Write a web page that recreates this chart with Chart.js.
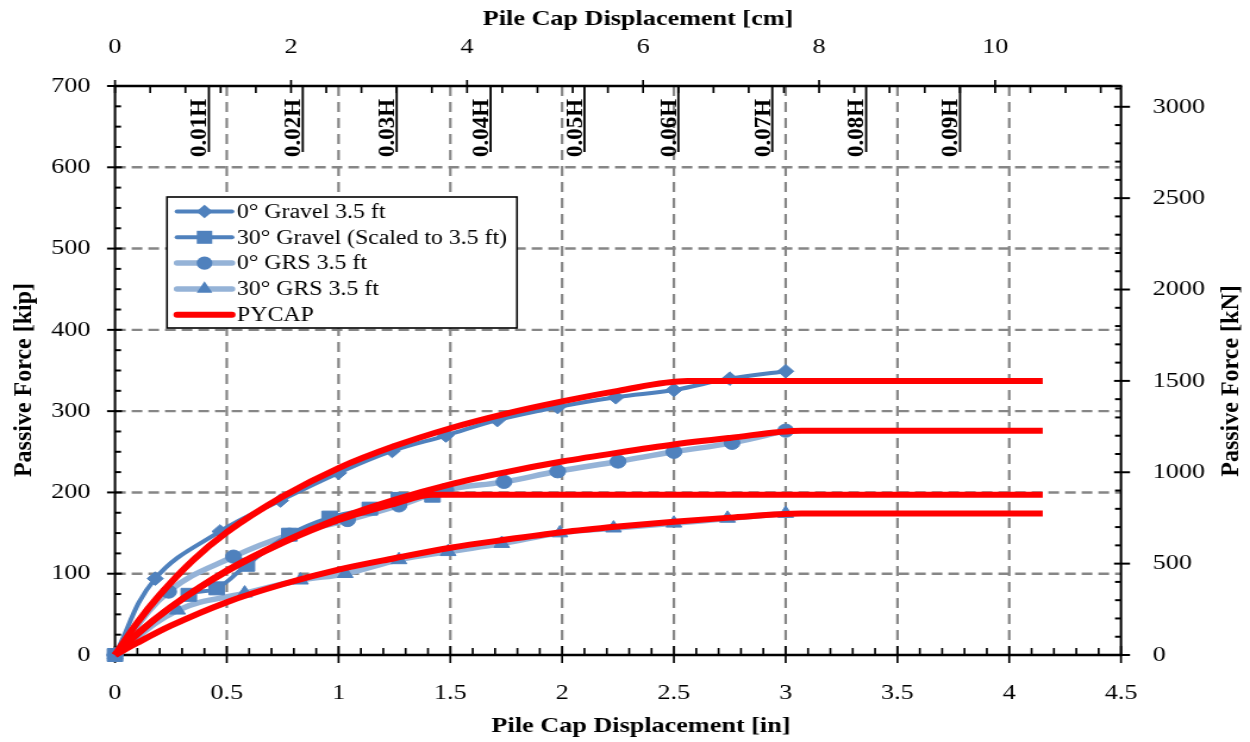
<!DOCTYPE html>
<html>
<head>
<meta charset="utf-8">
<script src="https://cdn.jsdelivr.net/npm/chart.js@4.4.1/dist/chart.umd.min.js"></script>
<style>
  html, body { margin: 0; padding: 0; background: #fff; overflow: hidden; }
  #wrap { width: 1250px; height: 742px; overflow: hidden; }
  #c { display: block; transform: scaleX(1.1904762); transform-origin: 0 0; }
</style>
</head>
<body>
<div id="wrap"><canvas id="c" width="1050" height="742"></canvas></div>
<script>
// Passive force vs. pile cap displacement: measured 3.5 ft backfill tests and PYCAP curves

// --- measured series (displacement in inches, force in kip) ---
const gravel0X = [0, 0.18, 0.47, 0.74, 1.00, 1.24, 1.48, 1.71, 1.98, 2.24, 2.50, 2.75, 3.00];
const gravel0Y = [0, 94, 152, 190, 224, 251, 270, 289, 305, 317, 326, 340, 349];

const gravel30X = [0, 0.33, 0.455, 0.59, 0.78, 0.96, 1.14, 1.27, 1.42];
const gravel30Y = [0, 74, 82, 111, 148, 169, 180, 192, 196];

const grs0X = [0, 0.24, 0.53, 0.78, 1.04, 1.27, 1.48, 1.74, 1.98, 2.25, 2.50, 2.76, 3.00];
const grs0Y = [0, 78, 121, 148, 166, 184, 203, 213, 226, 238, 250, 261, 276];

const grs30X = [0, 0.28, 0.58, 0.83, 1.03, 1.27, 1.49, 1.73, 1.99, 2.23, 2.50, 2.74, 3.00];
const grs30Y = [0, 55, 76, 92, 100, 117, 127, 137, 150, 156, 162, 168, 174];

// --- PYCAP predictions ---
const pycapAX = [0, 0.10, 0.20, 0.35, 0.50, 0.75, 1.00, 1.25, 1.50, 1.75, 2.00, 2.25, 2.56, 4.15];
const pycapAY = [0, 40, 74, 117, 151, 195, 230, 257, 279, 297, 312, 325, 337, 337];

const pycapBX = [0, 0.10, 0.25, 0.50, 0.75, 1.00, 1.25, 1.50, 1.75, 2.00, 2.25, 2.50, 2.75, 3.07, 4.15];
const pycapBY = [0, 26, 59, 104, 139, 168, 191, 210, 225, 238, 249, 259, 267, 276, 276];

const pycapCX = [0, 0.10, 0.25, 0.50, 0.75, 1.00, 1.25, 1.42, 4.15];
const pycapCY = [0, 26, 59, 103, 138, 166, 186, 197, 197];

const pycapDX = [0, 0.10, 0.25, 0.50, 0.75, 1.00, 1.25, 1.50, 1.75, 2.00, 2.25, 2.50, 2.75, 3.07, 4.15];
const pycapDY = [0, 15, 36, 65, 87, 105, 119, 132, 142, 151, 158, 164, 169, 174, 174];

// --- displacement markers as fractions of the backfill height ---
const hFractions = [0.01, 0.02, 0.03, 0.04, 0.05, 0.06, 0.07, 0.08, 0.09];
const hLabels = ['0.01H', '0.02H', '0.03H', '0.04H', '0.05H', '0.06H', '0.07H', '0.08H', '0.09H'];
const WALL_H_IN = 42;          // H = 3.5 ft

// --- axes ---
const X_MAX_IN = 4.5;
const Y_MAX_KIP = 700;
const KIP_TO_KN = 4.448222;
const IN_TO_CM = 2.54;
const kNTicks = [0, 500, 1000, 1500, 2000, 2500, 3000];
const cmTicks = [0, 2, 4, 6, 8, 10];

const DARK = '#4F81BD';
const LIGHT = '#95B3D7';
const RED = '#FF0000';
const SERIF = "'Liberation Serif', 'Times New Roman', Times, serif";
const SX = 1250 / 1050;        // horizontal display stretch of the canvas

function pts(xs, ys) { return xs.map((v, i) => ({ x: v, y: ys[i] })); }

function seg(ctx, x1, y1, x2, y2) {
  ctx.beginPath(); ctx.moveTo(x1, y1); ctx.lineTo(x2, y2); ctx.stroke();
}

function marker(ctx, style, cx, cy, r, color) {
  ctx.save();
  ctx.fillStyle = color;
  ctx.beginPath();
  if (style === 'circle') {
    ctx.arc(cx, cy, r, 0, Math.PI * 2);
  } else if (style === 'rect') {
    const s = r * Math.SQRT1_2;
    ctx.rect(cx - s, cy - s, 2 * s, 2 * s);
  } else if (style === 'rectRot') {
    ctx.moveTo(cx, cy - r); ctx.lineTo(cx + r, cy); ctx.lineTo(cx, cy + r); ctx.lineTo(cx - r, cy);
    ctx.closePath();
  } else if (style === 'triangle') {
    for (let k = 0; k < 3; k++) {
      const a = k * 2 * Math.PI / 3;
      const px = cx + r * Math.sin(a), py = cy - r * Math.cos(a);
      if (k === 0) ctx.moveTo(px, py); else ctx.lineTo(px, py);
    }
    ctx.closePath();
  }
  ctx.fill();
  ctx.restore();
}

function measured(label, xs, ys, lineColor, lineWidth, style, radius, order) {
  return {
    label, data: pts(xs, ys),
    borderColor: lineColor, borderWidth: lineWidth,
    pointStyle: style, pointRadius: radius, pointHoverRadius: radius,
    pointBackgroundColor: DARK, pointBorderColor: DARK, pointBorderWidth: 1,
    tension: 0.4, fill: false, clip: false, order
  };
}

function pycap(label, xs, ys) {
  return {
    label, data: pts(xs, ys),
    borderColor: RED, borderWidth: 6, pointRadius: 0, pointHoverRadius: 0,
    cubicInterpolationMode: 'monotone', fill: false, clip: false, order: 0
  };
}

const datasets = [
  measured('0° Gravel 3.5 ft', gravel0X, gravel0Y, DARK, 4, 'rectRot', 6.8, 1),
  measured('30° Gravel (Scaled to 3.5 ft)', gravel30X, gravel30Y, DARK, 4, 'rect', 9.2, 1),
  measured('0° GRS 3.5 ft', grs0X, grs0Y, LIGHT, 5.5, 'circle', 6.6, 2),
  measured('30° GRS 3.5 ft', grs30X, grs30Y, LIGHT, 5.5, 'triangle', 7.6, 2),
  pycap('PYCAP', pycapAX, pycapAY),
  pycap('PYCAP', pycapBX, pycapBY),
  pycap('PYCAP', pycapCX, pycapCY),
  pycap('PYCAP', pycapDX, pycapDY)
];
const legendRows = [0, 1, 2, 3, 4];

const tickFont = { family: SERIF, size: 22 };
const fmt = v => String(+Number(v).toFixed(2));

// grid, frame and tick marks drawn under the data
const framePlugin = {
  id: 'frame',
  beforeDatasetsDraw(chart) {
    const { ctx, chartArea: a, scales } = chart;
    const { x, y, x2, y2 } = scales;
    ctx.save();
    ctx.lineCap = 'butt';

    // dashed grid
    ctx.strokeStyle = '#868686';
    ctx.lineWidth = 2.2;
    ctx.setLineDash([10, 6]);
    for (let v = 0.5; v < X_MAX_IN; v += 0.5) {
      const px = x.getPixelForValue(v);
      seg(ctx, px, a.top, px, a.bottom);
    }
    ctx.lineWidth = 2.4;
    ctx.setLineDash([9, 5]);
    for (let v = 100; v < Y_MAX_KIP; v += 100) {
      const py = y.getPixelForValue(v);
      seg(ctx, a.left, py, a.right, py);
    }
    ctx.setLineDash([]);

    // plot frame
    ctx.strokeStyle = '#000';
    ctx.lineWidth = 2.4;
    seg(ctx, a.left - 1 / SX, a.bottom, a.right + 1 / SX, a.bottom);
    seg(ctx, a.left - 1 / SX, a.top, a.right + 1 / SX, a.top);
    ctx.lineWidth = 2.4 / SX;
    seg(ctx, a.left, a.top, a.left, a.bottom);
    seg(ctx, a.right, a.top, a.right, a.bottom);

    // left axis ticks (kip)
    ctx.lineWidth = 2;
    for (let i = 0; i <= 28; i++) {
      const py = y.getPixelForValue(i * 25);
      if (i % 4 === 0) seg(ctx, a.left - 8 / SX, py, a.left + 7 / SX, py);
      else seg(ctx, a.left, py, a.left + 6 / SX, py);
    }
    // right axis ticks (kN)
    for (let i = 0; i <= 31; i++) {
      const py = y2.getPixelForValue(i * 100);
      if (i % 5 === 0) seg(ctx, a.right - 7 / SX, py, a.right + 9 / SX, py);
      else seg(ctx, a.right - 6 / SX, py, a.right, py);
    }
    // bottom axis ticks (in)
    ctx.lineWidth = 2 / SX;
    for (let i = 0; i <= 45; i++) {
      const px = x.getPixelForValue(i * 0.1);
      if (i % 5 === 0) seg(ctx, px, a.bottom - 9, px, a.bottom + 8);
      else seg(ctx, px, a.bottom - 7, px, a.bottom);
    }
    // top axis ticks (cm)
    for (let i = 0; i <= 28; i++) {
      const px = x2.getPixelForValue(i * 0.4);
      if (i % 5 === 0) seg(ctx, px, a.top - 6, px, a.top + 7);
      else seg(ctx, px, a.top, px, a.top + 7);
    }
    ctx.restore();
  },

  afterDatasetsDraw(chart) {
    const { ctx, chartArea: a, scales } = chart;
    const { x } = scales;
    ctx.save();

    // H-fraction displacement markers
    ctx.strokeStyle = '#000';
    ctx.fillStyle = '#000';
    ctx.lineWidth = 2.2 / SX;
    ctx.font = `bold 23px ${SERIF}`;
    ctx.textAlign = 'left';
    ctx.textBaseline = 'alphabetic';
    hFractions.forEach((f, i) => {
      const px = x.getPixelForValue(f * WALL_H_IN);
      seg(ctx, px, a.top, px, 152);
      ctx.save();
      ctx.translate(px - 2.6 / SX, 157);
      ctx.scale(1 / SX, 1);
      ctx.rotate(-Math.PI / 2);
      ctx.fillText(hLabels[i], 0, 0);
      ctx.restore();
    });

    // legend
    const L = 167 / SX, R = 517 / SX, T = 197, B = 328;
    ctx.fillStyle = '#fff';
    ctx.fillRect(L, T, R - L, B - T);
    ctx.strokeStyle = '#000';
    ctx.lineWidth = 1.6;
    ctx.strokeRect(L, T, R - L, B - T);
    const sx1 = 177 / SX, sx2 = 232 / SX, tx = 237 / SX;
    ctx.font = `20px ${SERIF}`;
    ctx.textAlign = 'left';
    ctx.textBaseline = 'middle';
    legendRows.forEach((di, row) => {
      const ds = datasets[di];
      const ry = 211.5 + row * 25.8;
      ctx.strokeStyle = ds.borderColor;
      ctx.lineWidth = ds.borderWidth;
      ctx.lineCap = 'round';
      seg(ctx, sx1, ry, sx2, ry);
      if (ds.pointRadius > 0) marker(ctx, ds.pointStyle, (sx1 + sx2) / 2, ry, ds.pointRadius, ds.pointBackgroundColor);
      ctx.fillStyle = '#000';
      ctx.fillText(ds.label, tx, ry + 1);
    });

    // axis titles
    ctx.fillStyle = '#000';
    ctx.textAlign = 'center';
    ctx.textBaseline = 'middle';
    ctx.font = `bold 22px ${SERIF}`;
    ctx.fillText('Pile Cap Displacement [cm]', 638 / SX, 19);
    ctx.fillText('Pile Cap Displacement [in]', 641 / SX, 726);
    ctx.font = `bold 24px ${SERIF}`;
    [[25, 380, 'Passive Force [kip]'], [1232, 381, 'Passive Force [kN]']].forEach(([tx0, ty0, txt]) => {
      ctx.save();
      ctx.translate(tx0 / SX, ty0);
      ctx.scale(1 / SX, 1);
      ctx.rotate(-Math.PI / 2);
      ctx.fillText(txt, 0, 0);
      ctx.restore();
    });
    ctx.restore();
  }
};

new Chart(document.getElementById('c'), {
  type: 'line',
  data: { datasets },
  plugins: [framePlugin],
  options: {
    responsive: false,
    animation: false,
    devicePixelRatio: 1,
    events: [],
    layout: { padding: 0 },
    plugins: { legend: { display: false }, tooltip: { enabled: false }, title: { display: false } },
    scales: {
      x: {
        type: 'linear', position: 'bottom', min: 0, max: X_MAX_IN,
        grid: { display: false }, border: { display: false },
        ticks: { stepSize: 0.5, font: tickFont, color: '#000', padding: 16.8, maxRotation: 0, callback: fmt },
        afterFit: s => { s.height = 87; }
      },
      x2: {
        type: 'linear', position: 'top', min: 0, max: X_MAX_IN * IN_TO_CM,
        grid: { display: false }, border: { display: false },
        ticks: { font: tickFont, color: '#000', padding: 17.8, maxRotation: 0, callback: fmt },
        afterBuildTicks: s => { s.ticks = cmTicks.map(v => ({ value: v })); },
        afterFit: s => { s.height = 86; }
      },
      y: {
        type: 'linear', position: 'left', min: 0, max: Y_MAX_KIP,
        grid: { display: false }, border: { display: false },
        ticks: { stepSize: 100, font: tickFont, color: '#000', padding: 12.6, callback: fmt },
        afterFit: s => { s.width = 115 / SX; }
      },
      y2: {
        type: 'linear', position: 'right', min: 0, max: Y_MAX_KIP * KIP_TO_KN,
        grid: { display: false }, border: { display: false },
        ticks: { font: tickFont, color: '#000', padding: 18.5, callback: fmt },
        afterBuildTicks: s => { s.ticks = kNTicks.map(v => ({ value: v })); },
        afterFit: s => { s.width = 1050 - 1121 / SX; }
      }
    }
  }
});
</script>
</body>
</html>
